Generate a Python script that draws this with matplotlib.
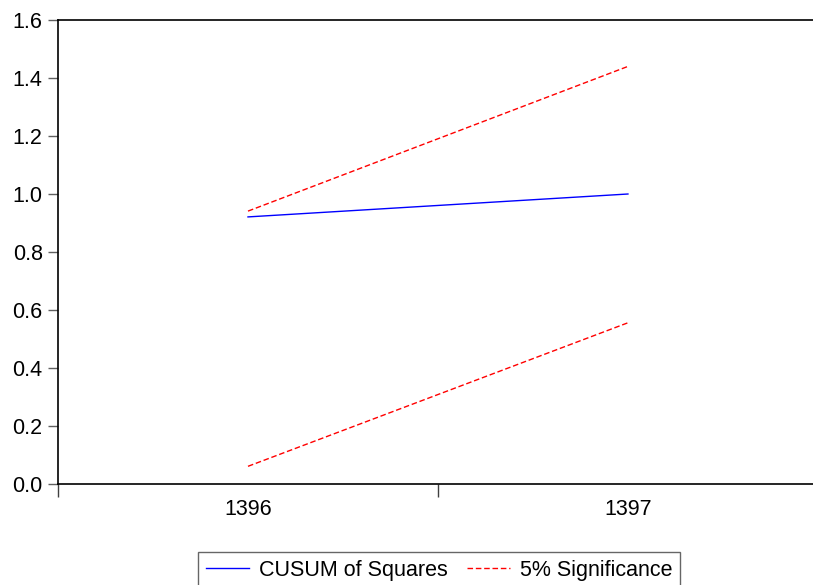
import matplotlib
matplotlib.use('Agg')
import matplotlib.pyplot as plt
import numpy as np

# CUSUM of squares test output (EViews style)
years = ['1396', '1397']
cusum_sq = [0.921, 1.0]
upper_5 = [0.941, 1.44]
lower_5 = [0.061, 0.556]
y_ticks = [0.0, 0.2, 0.4, 0.6, 0.8, 1.0, 1.2, 1.4, 1.6]

plt.rcParams['font.family'] = ['Liberation Sans', 'DejaVu Sans']
FS = 15.5

W, H = 813, 585
fig = plt.figure(figsize=(W / 100, H / 100), dpi=100)
ax = fig.add_axes([58 / W, (H - 484) / H, 1 - 58 / W, (484 - 20) / H])

x = np.arange(len(years))
ax.plot(x, cusum_sq, color='#0000ff', lw=1.0, label='CUSUM of Squares')
ax.plot(x, upper_5, color='#ff0000', lw=1.0, ls=(0, (4, 2)), label='5% Significance')
ax.plot(x, lower_5, color='#ff0000', lw=1.0, ls=(0, (4, 2)))

ax.set_ylim(0, 1.6)
ax.set_xlim(-0.5, 1.487)
ax.set_yticks(y_ticks)
ax.set_yticklabels(['%.1f' % v for v in y_ticks])

# period boundaries get tick marks, labels sit in the middle of each period
ax.set_xticks([-0.5, 0.5])
ax.set_xticklabels([])
ax.set_xticks(x, minor=True)
ax.set_xticklabels(years, minor=True)
ax.tick_params(axis='x', which='major', length=9, width=1, color='#404040', direction='out')
ax.tick_params(axis='x', which='minor', length=0, pad=11, labelsize=FS)
ax.tick_params(axis='y', length=7, width=1, color='#606060', direction='out', pad=4, labelsize=FS)

for s in ['left', 'bottom', 'top']:
    ax.spines[s].set_color('black')
    ax.spines[s].set_linewidth(1.2)
ax.spines['right'].set_visible(False)

leg = fig.legend(loc='upper center', bbox_to_anchor=(439 / W, 1 - 552 / H), ncol=2,
                 frameon=True, fancybox=False, edgecolor='#404040', fontsize=FS,
                 handlelength=2.0, handletextpad=0.45, columnspacing=0.9,
                 borderpad=0.35, borderaxespad=0)
leg.get_frame().set_linewidth(1.0)

fig.savefig('out.png', dpi=100)
